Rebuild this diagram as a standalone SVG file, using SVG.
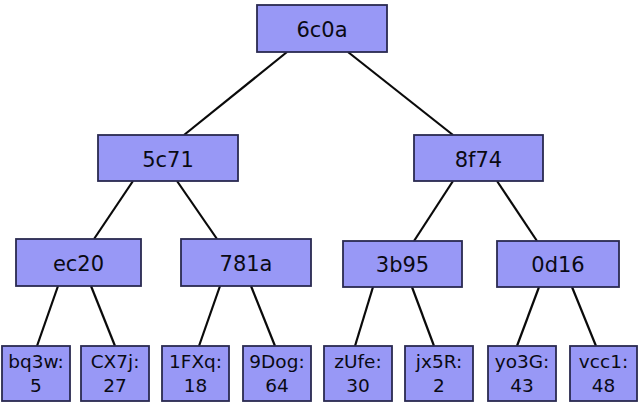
<svg xmlns="http://www.w3.org/2000/svg" width="639" height="407" viewBox="0 0 639 407">
<style>
.n rect{fill:#9898f6;stroke:#2a2a50;stroke-width:1.8}
.n text{font-family:"DejaVu Sans",sans-serif;fill:#0a0a14;text-anchor:middle}
.big text{font-size:21px}
.leaf text{font-size:18.5px}
#edges line{stroke:#0a0a0a;stroke-width:2.2}
</style>
<rect width="639" height="407" fill="#fff"/>
<g id="edges">
<line x1="287" y1="52" x2="184" y2="135"/>
<line x1="348" y1="52" x2="453" y2="135"/>
<line x1="133" y1="181" x2="94" y2="239"/>
<line x1="177" y1="181" x2="217" y2="239"/>
<line x1="453" y1="181" x2="414" y2="241"/>
<line x1="497" y1="181" x2="537" y2="241"/>
<line x1="58" y1="286" x2="37" y2="346"/>
<line x1="91" y1="286" x2="115" y2="346"/>
<line x1="220" y1="286" x2="199" y2="346"/>
<line x1="251" y1="286" x2="275" y2="346"/>
<line x1="373" y1="287" x2="355" y2="346"/>
<line x1="412" y1="287" x2="434" y2="346"/>
<line x1="539" y1="287" x2="517" y2="346"/>
<line x1="572" y1="287" x2="596" y2="346"/>
</g>
<g id="n6c0a" class="n big"><rect x="257" y="5" width="130" height="47"/><text x="322" y="36.5">6c0a</text></g>
<g id="n5c71" class="n big"><rect x="98" y="135" width="140" height="46"/><text x="168" y="166.5">5c71</text></g>
<g id="n8f74" class="n big"><rect x="414" y="135" width="129" height="46"/><text x="478.5" y="166.5">8f74</text></g>
<g id="nec20" class="n big"><rect x="16" y="239" width="125" height="47"/><text x="78.5" y="271">ec20</text></g>
<g id="n781a" class="n big"><rect x="181" y="239" width="130" height="47"/><text x="246" y="271">781a</text></g>
<g id="n3b95" class="n big"><rect x="343" y="241" width="119" height="46"/><text x="402.5" y="272">3b95</text></g>
<g id="n0d16" class="n big"><rect x="497" y="241" width="122" height="46"/><text x="558" y="272">0d16</text></g>
<g id="bq3w" class="n leaf"><rect x="2" y="346" width="68" height="55"/><text x="36" y="368">bq3w:</text><text x="36" y="392">5</text></g>
<g id="CX7j" class="n leaf"><rect x="81" y="346" width="68" height="55"/><text x="115" y="368">CX7j:</text><text x="115" y="392">27</text></g>
<g id="1FXq" class="n leaf"><rect x="162" y="346" width="67" height="55"/><text x="195.5" y="368">1FXq:</text><text x="195.5" y="392">18</text></g>
<g id="9Dog" class="n leaf"><rect x="243" y="346" width="68" height="55"/><text x="277" y="368">9Dog:</text><text x="277" y="392">64</text></g>
<g id="zUfe" class="n leaf"><rect x="324" y="346" width="68" height="55"/><text x="358" y="368">zUfe:</text><text x="358" y="392">30</text></g>
<g id="jx5R" class="n leaf"><rect x="405" y="346" width="68" height="55"/><text x="439" y="368">jx5R:</text><text x="439" y="392">2</text></g>
<g id="yo3G" class="n leaf"><rect x="488" y="346" width="68" height="55"/><text x="522" y="368">yo3G:</text><text x="522" y="392">43</text></g>
<g id="vcc1" class="n leaf"><rect x="570" y="346" width="67" height="55"/><text x="603.5" y="368">vcc1:</text><text x="603.5" y="392">48</text></g>
</svg>
